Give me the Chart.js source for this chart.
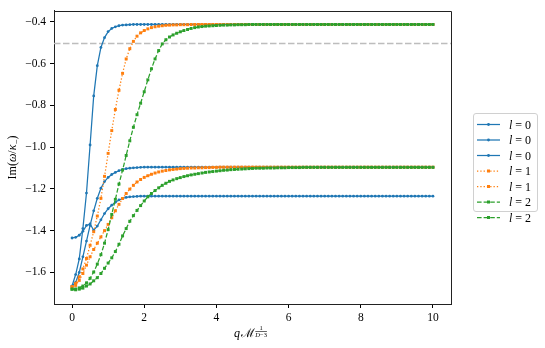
<!DOCTYPE html>
<html><head><meta charset="utf-8">
<script src="https://cdn.jsdelivr.net/npm/chart.js@4.4.1/dist/chart.umd.min.js"></script>
<style>html,body{margin:0;padding:0;background:#fff;}canvas{display:block;}</style>
</head><body>
<canvas id="c" width="545" height="348"></canvas>
<script>
const xs = [0,0.1,0.2,0.3,0.4,0.5,0.6,0.7,0.8,0.9,1,1.1,1.2,1.3,1.4,1.5,1.6,1.7,1.8,1.9,
2,2.1,2.2,2.3,2.4,2.5,2.6,2.7,2.8,2.9,3,3.1,3.2,3.3,3.4,3.5,3.6,3.7,3.8,3.9,
4,4.1,4.2,4.3,4.4,4.5,4.6,4.7,4.8,4.9,5,5.1,5.2,5.3,5.4,5.5,5.6,5.7,5.8,5.9,
6,6.1,6.2,6.3,6.4,6.5,6.6,6.7,6.8,6.9,7,7.1,7.2,7.3,7.4,7.5,7.6,7.7,7.8,7.9,
8,8.1,8.2,8.3,8.4,8.5,8.6,8.7,8.8,8.9,9,9.1,9.2,9.3,9.4,9.5,9.6,9.7,9.8,9.9,10];

const blueA = [-1.665,-1.61,-1.535,-1.39,-1.22,-0.99,-0.755,-0.61,-0.523,-0.476,-0.447,-0.432,-0.424,-0.419,-0.416,-0.415,-0.414,
-0.413,-0.413,-0.413,-0.413,-0.413,-0.413,-0.413,-0.413,-0.413,-0.413,
-0.413,-0.413,-0.413,-0.413,-0.413,-0.413,-0.413,-0.413,-0.413,-0.413,
-0.413,-0.413,-0.413,-0.413,-0.413,-0.413,-0.413,-0.413,-0.413,-0.413,
-0.413,-0.413,-0.413,-0.413,-0.413,-0.413,-0.413,-0.413,-0.413,-0.413,
-0.413,-0.413,-0.413,-0.413,-0.413,-0.413,-0.413,-0.413,-0.413,-0.413,
-0.413,-0.413,-0.413,-0.413,-0.413,-0.413,-0.413,-0.413,-0.413,-0.413,
-0.413,-0.413,-0.413,-0.413,-0.413,-0.413,-0.413,-0.413,-0.413,-0.413,
-0.413,-0.413,-0.413,-0.413,-0.413,-0.413,-0.413,-0.413,-0.413,-0.413,
-0.413,-0.413,-0.413,-0.413];

const blueB = [-1.665,-1.648,-1.6,-1.525,-1.45,-1.375,-1.305,-1.245,-1.197,-1.165,-1.145,-1.131,-1.121,-1.113,-1.107,-1.103,-1.101,-1.099,-1.098,-1.097,
-1.096,-1.096,-1.096,-1.096,-1.096,-1.096,-1.096,-1.096,-1.096,-1.096,
-1.096,-1.096,-1.096,-1.096,-1.096,-1.096,-1.096,-1.096,-1.096,-1.096,
-1.096,-1.096,-1.096,-1.096,-1.096,-1.096,-1.096,-1.096,-1.096,-1.096,
-1.096,-1.096,-1.096,-1.096,-1.096,-1.096,-1.096,-1.096,-1.096,-1.096,
-1.096,-1.096,-1.096,-1.096,-1.096,-1.096,-1.096,-1.096,-1.096,-1.096,
-1.096,-1.096,-1.096,-1.096,-1.096,-1.096,-1.096,-1.096,-1.096,-1.096,
-1.096,-1.096,-1.096,-1.096,-1.096,-1.096,-1.096,-1.096,-1.096,-1.096,
-1.096,-1.096,-1.096,-1.096,-1.096,-1.096,-1.096,-1.096,-1.096,-1.096,
-1.096];

const blueC = [-1.435,-1.432,-1.422,-1.403,-1.375,-1.368,-1.398,-1.378,-1.348,-1.318,-1.295,-1.278,-1.264,-1.253,-1.246,-1.241,-1.238,-1.237,-1.236,
-1.235,-1.235,-1.235,-1.235,-1.235,-1.235,-1.235,-1.235,-1.235,-1.235,
-1.235,-1.235,-1.235,-1.235,-1.235,-1.235,-1.235,-1.235,-1.235,-1.235,
-1.235,-1.235,-1.235,-1.235,-1.235,-1.235,-1.235,-1.235,-1.235,-1.235,
-1.235,-1.235,-1.235,-1.235,-1.235,-1.235,-1.235,-1.235,-1.235,-1.235,
-1.235,-1.235,-1.235,-1.235,-1.235,-1.235,-1.235,-1.235,-1.235,-1.235,
-1.235,-1.235,-1.235,-1.235,-1.235,-1.235,-1.235,-1.235,-1.235,-1.235,
-1.235,-1.235,-1.235,-1.235,-1.235,-1.235,-1.235,-1.235,-1.235,-1.235,
-1.235,-1.235,-1.235,-1.235,-1.235,-1.235,-1.235,-1.235,-1.235,-1.235,
-1.235,-1.235];

const orange1 = [-1.668,-1.652,-1.622,-1.583,-1.533,-1.47,-1.405,-1.33,-1.245,-1.14,-1.03,-0.921,-0.82,-0.728,-0.647,-0.578,-0.529,-0.494,-0.469,-0.453,
-0.442,-0.434,-0.428,-0.424,-0.421,-0.419,-0.417,-0.416,-0.415,-0.415,-0.414,-0.414,-0.414,
-0.413,-0.413,-0.413,-0.413,-0.413,-0.413,-0.413,-0.413,-0.413,-0.413,
-0.413,-0.413,-0.413,-0.413,-0.413,-0.413,-0.413,-0.413,-0.413,-0.413,
-0.413,-0.413,-0.413,-0.413,-0.413,-0.413,-0.413,-0.413,-0.413,-0.413,
-0.413,-0.413,-0.413,-0.413,-0.413,-0.413,-0.413,-0.413,-0.413,-0.413,
-0.413,-0.413,-0.413,-0.413,-0.413,-0.413,-0.413,-0.413,-0.413,-0.413,
-0.413,-0.413,-0.413,-0.413,-0.413,-0.413,-0.413,-0.413,-0.413,-0.413,
-0.413,-0.413,-0.413,-0.413,-0.413,-0.413,-0.413,-0.413];

const orange2 = [-1.67,-1.662,-1.638,-1.605,-1.565,-1.525,-1.49,-1.46,-1.43,-1.4,-1.37,-1.338,-1.305,-1.274,-1.246,-1.222,-1.201,-1.183,-1.167,-1.155,
-1.145,-1.137,-1.13,-1.124,-1.119,-1.115,-1.112,-1.109,-1.107,-1.105,-1.103,-1.102,-1.101,-1.1,-1.1,-1.099,-1.099,-1.098,-1.098,-1.097,-1.097,
-1.096,-1.096,-1.096,-1.096,-1.096,-1.096,-1.096,-1.096,-1.096,-1.096,
-1.096,-1.096,-1.096,-1.096,-1.096,-1.096,-1.096,-1.096,-1.096,-1.096,
-1.096,-1.096,-1.096,-1.096,-1.096,-1.096,-1.096,-1.096,-1.096,-1.096,
-1.096,-1.096,-1.096,-1.096,-1.096,-1.096,-1.096,-1.096,-1.096,-1.096,
-1.096,-1.096,-1.096,-1.096,-1.096,-1.096,-1.096,-1.096,-1.096,-1.096,
-1.096,-1.096,-1.096,-1.096,-1.096,-1.096,-1.096,-1.096,-1.096,-1.096];

const green1 = [-1.68,-1.679,-1.674,-1.665,-1.65,-1.628,-1.598,-1.56,-1.515,-1.46,-1.395,-1.322,-1.25,-1.177,-1.11,-1.04,-0.97,-0.905,-0.845,-0.79,
-0.735,-0.678,-0.625,-0.578,-0.538,-0.506,-0.486,-0.473,-0.463,-0.455,-0.448,-0.442,-0.437,-0.432,-0.428,-0.425,-0.423,-0.421,-0.42,-0.419,
-0.418,-0.417,-0.416,-0.416,-0.415,-0.415,-0.414,-0.414,-0.414,
-0.413,-0.413,-0.413,-0.413,-0.413,-0.413,-0.413,-0.413,-0.413,-0.413,
-0.413,-0.413,-0.413,-0.413,-0.413,-0.413,-0.413,-0.413,-0.413,-0.413,
-0.413,-0.413,-0.413,-0.413,-0.413,-0.413,-0.413,-0.413,-0.413,-0.413,
-0.413,-0.413,-0.413,-0.413,-0.413,-0.413,-0.413,-0.413,-0.413,-0.413,
-0.413,-0.413,-0.413,-0.413,-0.413,-0.413,-0.413,-0.413,-0.413,-0.413,
-0.413,-0.413];

const green2 = [-1.68,-1.683,-1.68,-1.675,-1.665,-1.655,-1.64,-1.625,-1.605,-1.58,-1.555,-1.53,-1.5,-1.465,-1.425,-1.39,-1.355,-1.328,-1.303,-1.28,
-1.258,-1.238,-1.222,-1.208,-1.195,-1.183,-1.173,-1.164,-1.157,-1.151,-1.146,-1.141,-1.137,-1.133,-1.13,-1.127,-1.124,-1.121,-1.119,-1.117,
-1.115,-1.113,-1.111,-1.11,-1.108,-1.107,-1.106,-1.105,-1.104,-1.103,-1.102,-1.101,-1.101,-1.101,-1.1,-1.1,-1.1,-1.099,-1.099,-1.099,
-1.098,-1.098,-1.098,-1.098,
-1.097,-1.097,-1.097,-1.097,-1.097,-1.097,-1.097,-1.097,-1.097,-1.097,
-1.097,-1.097,-1.097,-1.097,-1.097,-1.097,-1.097,-1.097,-1.097,-1.097,
-1.097,-1.097,-1.097,-1.097,-1.097,-1.097,-1.097,-1.097,-1.097,-1.097,
-1.097,-1.097,-1.097,-1.097,-1.097,-1.097,-1.097];

const seriesL = [0,0,0,1,1,2,2];
const xTicks = [0,2,4,6,8,10];
const yTicks = [-1.6,-1.4,-1.2,-1.0,-0.8,-0.6,-0.4];
const refLevel = -0.5;

const BLUE='#1f77b4', ORANGE='#ff7f0e', GREEN='#2ca02c';
const SERIF = "'Liberation Serif', 'DejaVu Serif', serif";

function mk(ys, color, dash, style, r, order){
  return {
    data: ys.map((y,i)=>({x:xs[i], y})),
    borderColor: color, backgroundColor: color, borderWidth: 1.25, borderDash: dash,
    pointStyle: style, pointRadius: r, pointBorderWidth: 0, pointBackgroundColor: color,
    pointHoverRadius: r, tension: 0, fill: false, order: order
  };
}
const DOT=[1.3,2.0], DASH=[4.6,2.0];
const datasets = [
  mk(blueA, BLUE, [], 'circle', 1.4, 6),
  mk(blueB, BLUE, [], 'circle', 1.4, 5),
  mk(blueC, BLUE, [], 'circle', 1.4, 4),
  mk(orange1, ORANGE, DOT, 'rect', 2.1, 3),
  mk(orange2, ORANGE, DOT, 'rect', 2.1, 2),
  mk(green1, GREEN, DASH, 'rect', 2.1, 1),
  mk(green2, GREEN, DASH, 'rect', 2.1, 0)
];

function runsWidth(ctx, runs){
  let w=0; for(const r of runs){ ctx.font=r.f; w+=ctx.measureText(r.t).width; } return w;
}
function drawRuns(ctx, runs, x, y){
  let cx=x;
  for(const r of runs){ ctx.font=r.f; ctx.fillText(r.t, cx, y+(r.dy||0)); cx+=ctx.measureText(r.t).width; }
  return cx;
}

const extras = {
  id:'extras',
  beforeDatasetsDraw(chart){
    const {ctx, chartArea:a, scales:{y}} = chart;
    const py = Math.round(y.getPixelForValue(refLevel))+0.5;
    ctx.save();
    ctx.strokeStyle='#bdbdbd'; ctx.lineWidth=1.5; ctx.setLineDash([6.5,2.5]);
    ctx.beginPath(); ctx.moveTo(a.left,py); ctx.lineTo(a.right,py); ctx.stroke();
    ctx.restore();
  },
  afterDraw(chart){
    const {ctx, chartArea:a} = chart;
    ctx.save();
    // top and right spines
    ctx.strokeStyle='#222'; ctx.lineWidth=1;
    const t = Math.round(a.top)+0.5, r = Math.round(a.right)+0.5;
    ctx.beginPath(); ctx.moveTo(a.left, t); ctx.lineTo(r, t); ctx.lineTo(r, a.bottom); ctx.stroke();
    ctx.fillStyle='#000'; ctx.textBaseline='alphabetic';
    // y title
    const up = '12px '+SERIF, it = 'italic 12px '+SERIF, sm = '9px '+SERIF;
    const yr = [{t:'Im(',f:up},{t:'ω',f:it},{t:'/',f:up},{t:'κ',f:it},{t:'−',f:sm,dy:2.5},{t:')',f:up}];
    ctx.save();
    ctx.translate(16, (a.top+a.bottom)/2);
    ctx.rotate(-Math.PI/2);
    drawRuns(ctx, yr, -runsWidth(ctx,yr)/2, 0);
    ctx.restore();
    // x title
    const xf = 'italic 12px '+SERIF, tiny = '6.5px '+SERIF, tinyI = 'italic 6.5px '+SERIF;
    let cx = 234, base = 337;
    ctx.font = xf; ctx.fillText('q', cx, base); cx += ctx.measureText('q').width + 0.5;
    ctx.font = '12px '+SERIF; ctx.fillText('ℳ', cx, base); cx += ctx.measureText('ℳ').width + 0.8;
    const den = [{t:'D',f:tinyI},{t:'−3',f:tiny}];
    const dw = runsWidth(ctx, den);
    ctx.font = tiny; const nw = ctx.measureText('1').width;
    ctx.fillText('1', cx + (dw-nw)/2, base-7);
    ctx.fillRect(cx, base-6, dw, 0.6);
    drawRuns(ctx, den, cx, base-0.5);
    // legend
    const lx=473, ly=113, lw=64, lh=98;
    ctx.beginPath();
    if (ctx.roundRect) ctx.roundRect(lx+0.5, ly+0.5, lw, lh, 2.5); else ctx.rect(lx+0.5,ly+0.5,lw,lh);
    ctx.fillStyle='rgba(255,255,255,0.8)'; ctx.fill();
    ctx.strokeStyle='#d0d0d0'; ctx.lineWidth=1; ctx.stroke();
    chart.data.datasets.forEach((ds,i)=>{
      const cy = ly + 11.5 + i*15.5;
      ctx.save();
      ctx.strokeStyle = ds.borderColor; ctx.lineWidth = 1.25; ctx.setLineDash(ds.borderDash);
      ctx.beginPath(); ctx.moveTo(477, cy); ctx.lineTo(500, cy); ctx.stroke();
      ctx.setLineDash([]);
      ctx.fillStyle = ds.borderColor;
      if (ds.pointStyle==='circle'){ ctx.beginPath(); ctx.arc(488.5, cy, 1.4, 0, Math.PI*2); ctx.fill(); }
      else { const s=1.5; ctx.fillRect(488.5-s, cy-s, 2*s, 2*s); }
      ctx.restore();
      ctx.fillStyle='#000';
      drawRuns(ctx, [{t:'l',f:'italic 12px '+SERIF},{t:' = '+seriesL[i],f:'12px '+SERIF}], 509, cy+4);
    });
    ctx.restore();
  }
};

const fmt = v => (v<0?'−':'') + Math.abs(v).toFixed(1);

new Chart(document.getElementById('c'), {
  type:'line',
  data:{ datasets },
  options:{
    responsive:false, animation:false, devicePixelRatio:1,
    layout:{ padding:{ left:0, right:94, top:8, bottom:0 } },
    plugins:{ legend:{display:false}, tooltip:{enabled:false} },
    scales:{
      x:{ type:'linear', min:-0.5, max:10.5,
        afterBuildTicks: s => { s.ticks = xTicks.map(v=>({value:v})); },
        afterFit: s => { s.height = 44; },
        ticks:{ autoSkip:false, maxRotation:0, color:'#000', padding:3, font:{family:SERIF, size:11.5}, callback: v => String(v) },
        grid:{ drawOnChartArea:false, drawTicks:true, tickLength:4, color:'#000', tickColor:'#000', tickWidth:1 },
        border:{ display:true, color:'#222', width:1 }
      },
      y:{ type:'linear', min:-1.751, max:-0.348,
        afterBuildTicks: s => { s.ticks = yTicks.map(v=>({value:v})); },
        afterFit: s => { s.width = 54; },
        ticks:{ autoSkip:false, color:'#000', padding:4, font:{family:SERIF, size:11.5}, callback: v => fmt(v) },
        grid:{ drawOnChartArea:false, drawTicks:true, tickLength:4, color:'#000', tickColor:'#000', tickWidth:1 },
        border:{ display:true, color:'#222', width:1 }
      }
    }
  },
  plugins:[extras]
});
</script>
</body></html>
